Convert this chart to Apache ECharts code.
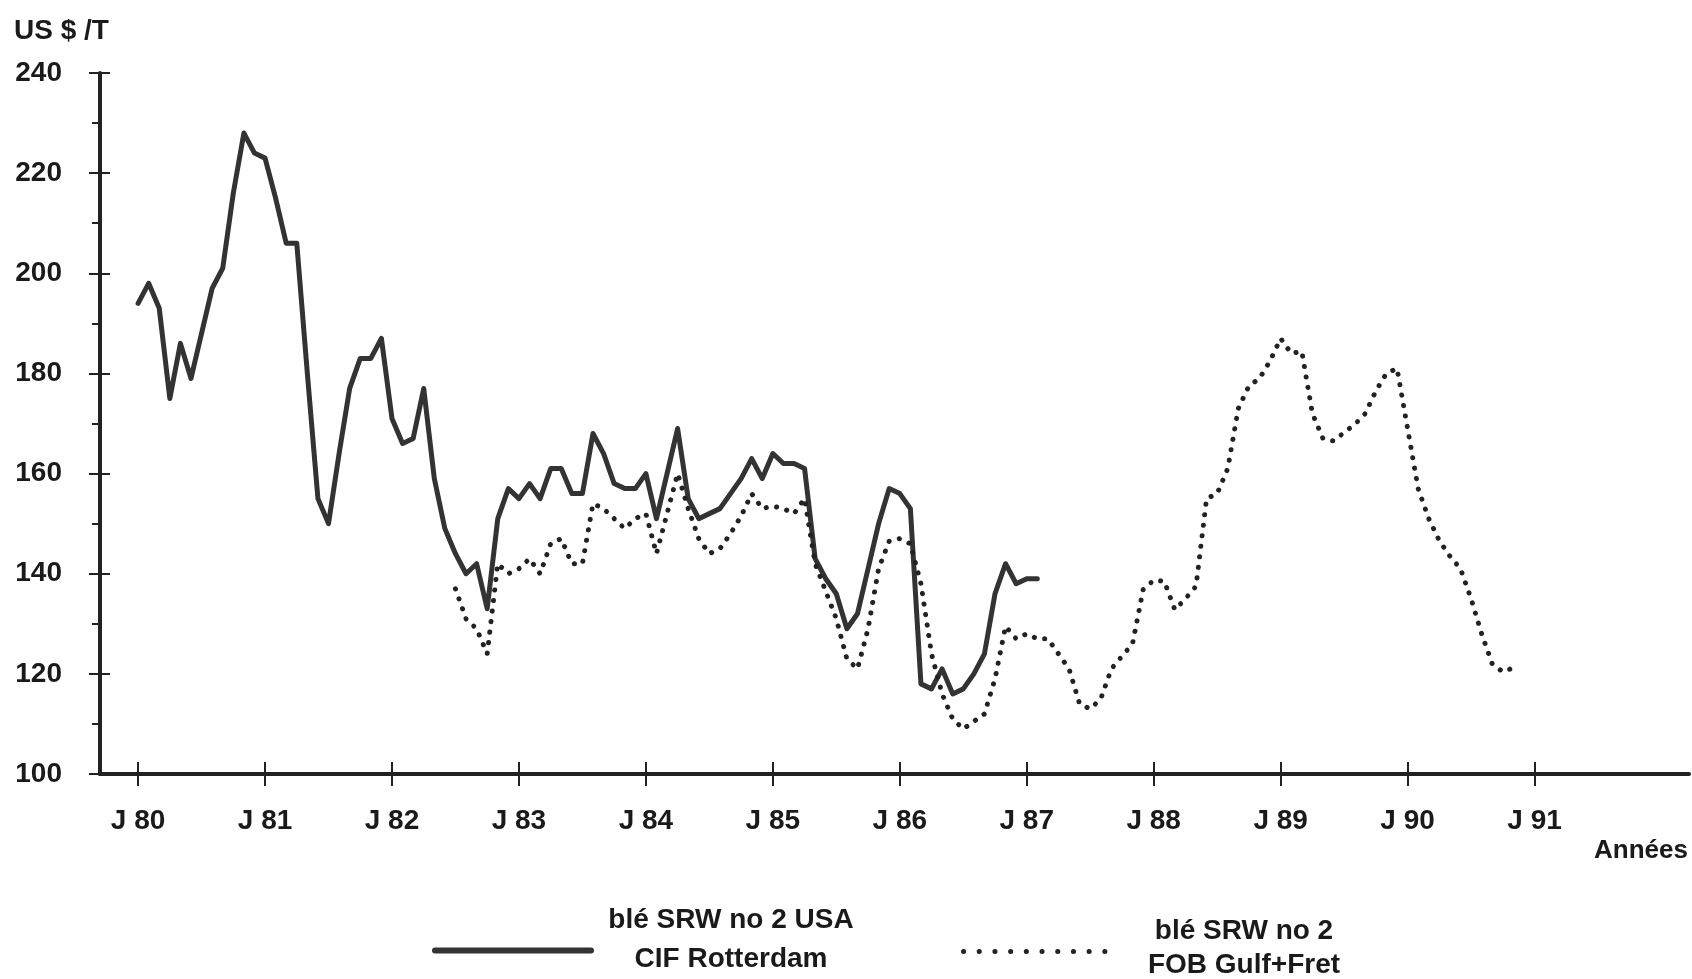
<!DOCTYPE html>
<html>
<head>
<meta charset="utf-8">
<script src="https://cdn.jsdelivr.net/npm/echarts@6/dist/echarts.min.js"></script>
<style>
html,body{margin:0;padding:0;background:#fff;}
#chart{width:1692px;height:979px;}
</style>
</head>
<body>
<div id="chart"></div>
<script>
// Months counted from January 1980 (J 80 = 0)
const yearTicks = [0, 12, 24, 36, 48, 60, 72, 84, 96, 108, 120, 132];
const yearLabels = ['J 80','J 81','J 82','J 83','J 84','J 85','J 86','J 87','J 88','J 89','J 90','J 91'];

// blé SRW no 2 USA CIF Rotterdam, monthly from J 80
const solidStart = 0;
const solidValues = [
  194,198,193,175,186,179,188,197,201,216,
  228,224,223,215,206,206,180,155,150,164,
  177,183,183,187,171,166,167,177,159,149,
  144,140,142,133,151,157,155,158,155,161,
  161,156,156,168,164,158,157,157,160,151,
  160,169,155,151,152,153,156,159,163,159,
  164,162,162,161,143,139,136,129,132,141,
  150,157,156,153,118,117,121,116,117,120,
  124,136,142,138,139,139
];

// blé SRW no 2 FOB Gulf + Fret, monthly from July 1982
const dottedStart = 30;
const dottedValues = [
  137,131,129,124,142,140,141,143,140,146,
  147,142,142,154,153,151,149,151,152,144,
  152,160,153,147,144,145,148,151.5,156,153,
  153.5,153,152,155,142,136.5,131,123,121,129,
  141,146.5,147,146,138,124,116,111,109,110.5,
  112,119,129.5,127,128,127,127,124,121,114,
  113,115,121,123.5,126,136.8,138.7,138.5,132.8,135,
  137.5,155,156,161,173,177.5,179,182.5,187,184,
  184.4,172,167,166.5,168.2,169.8,172,176.5,180,181,
  169,157,151,146.6,143.5,141,135,128,122,120.4,
  121.2
];

const seriesNames = ['blé SRW no 2 USA\nCIF Rotterdam', 'blé SRW no 2\nFOB Gulf+Fret'];

const FONT = '"Liberation Sans", Arial, Helvetica, sans-serif';
const INK = '#1a1a1a';
const LINE = '#333333';

const chart = echarts.init(document.getElementById('chart'), null, {renderer: 'canvas'});

const xMin = -3.6, xMax = 146.6;
const commonX = {type: 'value', min: xMin, max: xMax, position: 'bottom', offset: 0, splitLine: {show: false}};
const commonY = {type: 'value', min: 100, max: 240, interval: 20, position: 'left', offset: 0, splitLine: {show: false}};

function textStyle(size, lh) {
  return {fontFamily: FONT, fontSize: size, fontWeight: 'bold', color: INK, lineHeight: lh};
}

chart.setOption({
  animation: false,
  backgroundColor: '#ffffff',
  title: [
    {text: 'US $ /T', left: 14, top: 17, padding: 0, textStyle: textStyle(28)},
    {text: 'Années', right: 4, top: 838, padding: 0, textStyle: textStyle(26)},
    // legend captions (centred two-line texts)
    {text: seriesNames[0], left: 731, top: 901, padding: 0, textAlign: 'center', textStyle: textStyle(28, 39)},
    {text: seriesNames[1], left: 1244, top: 914, padding: 0, textAlign: 'center', textStyle: textStyle(28, 34)}
  ],
  grid: {left: 100, right: 3, top: 73, bottom: 205, containLabel: false},
  xAxis: [
    Object.assign({}, commonX, {
      axisLine: {show: true, onZero: false, lineStyle: {color: '#222', width: 4}},
      axisTick: {show: true, customValues: yearTicks, length: 12, lineStyle: {color: '#222', width: 2}},
      axisLabel: {show: true, customValues: yearTicks, margin: 33,
        formatter: function (v) { const i = yearTicks.indexOf(Math.round(v)); return i >= 0 ? yearLabels[i] : ''; },
        fontFamily: FONT, fontSize: 28, fontWeight: 'bold', color: INK}
    }),
    Object.assign({}, commonX, {
      axisLine: {show: false, onZero: false},
      axisTick: {show: true, inside: true, customValues: yearTicks, length: 12, lineStyle: {color: '#222', width: 2}},
      axisLabel: {show: false}
    })
  ],
  yAxis: [
    Object.assign({}, commonY, {
      axisLine: {show: true, onZero: false, lineStyle: {color: '#222', width: 4}},
      axisTick: {show: true, length: 11, lineStyle: {color: '#222', width: 2}},
      minorTick: {show: true, splitNumber: 2, length: 8, lineStyle: {color: '#222', width: 2}},
      axisLabel: {show: true, margin: 38, fontFamily: FONT, fontSize: 28, fontWeight: 'bold', color: INK}
    }),
    Object.assign({}, commonY, {
      axisLine: {show: false, onZero: false},
      axisTick: {show: true, inside: true, length: 10, lineStyle: {color: '#222', width: 2}},
      axisLabel: {show: false}
    })
  ],
  legend: [
    {
      data: [seriesNames[0]], left: 432, top: 945, padding: 0,
      itemWidth: 156, itemHeight: 14,
      formatter: function () { return ''; },
      textStyle: {fontSize: 10, lineHeight: 14},
      itemStyle: {opacity: 0},
      lineStyle: {width: 6, color: LINE, cap: 'round'}
    },
    {
      data: [seriesNames[1]], left: 961, top: 946, padding: 0,
      itemWidth: 144, itemHeight: 14,
      formatter: function () { return ''; },
      textStyle: {fontSize: 10, lineHeight: 14},
      itemStyle: {opacity: 0},
      lineStyle: {width: 5, color: '#222', type: [0.1, 15.6], cap: 'round'}
    }
  ],
  series: [
    {
      name: seriesNames[0], type: 'line', xAxisIndex: 0, yAxisIndex: 0,
      symbol: 'none', showSymbol: false, smooth: false,
      lineStyle: {width: 5, color: LINE, join: 'round', cap: 'round'},
      itemStyle: {color: LINE},
      data: solidValues.map(function (v, i) { return [solidStart + i, v]; })
    },
    {
      name: seriesNames[1], type: 'line', xAxisIndex: 0, yAxisIndex: 0,
      symbol: 'none', showSymbol: false, smooth: false,
      lineStyle: {width: 5, color: '#222', type: [0.1, 10.5], cap: 'round', join: 'round'},
      itemStyle: {color: '#222'},
      data: dottedValues.map(function (v, i) { return [dottedStart + i, v]; })
    }
  ]
});
</script>
</body>
</html>
